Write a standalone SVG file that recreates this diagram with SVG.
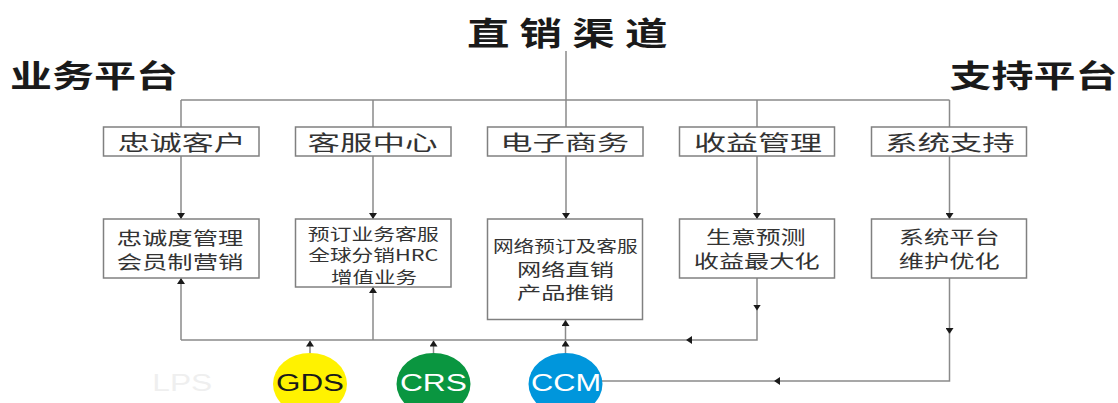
<svg xmlns="http://www.w3.org/2000/svg" width="1118" height="403" viewBox="0 0 1118 403">
<style>
.box{fill:#fff;stroke:#808080;stroke-width:1.5}
.ln{fill:none;stroke:#8a8a8a;stroke-width:1.5}
.cj{font-family:"Noto Sans CJK SC","Noto Sans",sans-serif;fill:#333;text-anchor:middle}
.ttl{font-family:"Noto Sans CJK SC","Noto Sans",sans-serif;fill:#1a1a1a;font-weight:bold}
.lat{font-family:"Liberation Sans",Arial,sans-serif;font-size:23px;text-anchor:middle}
</style>
<defs>
<marker id="ah" viewBox="0 0 6 8" refX="6" refY="4" markerWidth="6" markerHeight="8" orient="auto" markerUnits="userSpaceOnUse">
<path d="M0,0 L6,4 L0,8 z" fill="#1a1a1a"/>
</marker>
</defs>
<rect width="1118" height="403" fill="#fff"/>

<g id="titles">
<text class="ttl" font-size="32" letter-spacing="7.6" transform="scale(1.33 1)" x="351.1" y="44.7">直销渠道</text>
<text class="ttl" font-size="30.5" x="94" y="87" text-anchor="middle" textLength="168" lengthAdjust="spacingAndGlyphs">业务平台</text>
<text class="ttl" font-size="30.5" x="1033.5" y="87" text-anchor="middle" textLength="168" lengthAdjust="spacingAndGlyphs">支持平台</text>
</g>

<g id="connectors">
<path class="ln" d="M566,51 V127"/>
<path class="ln" d="M181,100 H949.5 M181,100 V127 M373,100 V127 M757,100 V127 M949.5,100 V127"/>
<path class="ln" d="M181,156 V219" marker-end="url(#ah)"/>
<path class="ln" d="M373,156 V219" marker-end="url(#ah)"/>
<path class="ln" d="M566,156 V219" marker-end="url(#ah)"/>
<path class="ln" d="M757,156 V219" marker-end="url(#ah)"/>
<path class="ln" d="M949.5,156 V219" marker-end="url(#ah)"/>
<path class="ln" d="M181,340 V278" marker-end="url(#ah)"/>
<path class="ln" d="M373,340 V287" marker-end="url(#ah)"/>
<path class="ln" d="M757,278 V310.5" marker-end="url(#ah)"/>
<path class="ln" d="M757,310 V340 H686" marker-end="url(#ah)"/>
<path class="ln" d="M686.5,340 H181"/>
<path class="ln" d="M310,354 V340.5" marker-end="url(#ah)"/>
<path class="ln" d="M433.5,354 V340.5" marker-end="url(#ah)"/>
<path class="ln" d="M565.5,354 V340.5" marker-end="url(#ah)"/>
<path class="ln" d="M565.5,340 V320" marker-end="url(#ah)"/>
<path class="ln" d="M949.5,278 V334" marker-end="url(#ah)"/>
<path class="ln" d="M949.5,333.5 V381 H774" marker-end="url(#ah)"/>
<path class="ln" d="M774.5,381 H602"/>
</g>

<g id="n-loyal">
<rect class="box" x="103.5" y="127" width="155.5" height="29"/>
<text class="cj" font-size="21" x="181.7" y="150" textLength="128" lengthAdjust="spacingAndGlyphs">忠诚客户</text>
</g>
<g id="n-service">
<rect class="box" x="295.5" y="127" width="155.5" height="29"/>
<text class="cj" font-size="21" x="372.5" y="150" textLength="130" lengthAdjust="spacingAndGlyphs">客服中心</text>
</g>
<g id="n-ecom">
<rect class="box" x="487.5" y="127" width="155.5" height="29"/>
<text class="cj" font-size="21" x="564.8" y="150" textLength="129" lengthAdjust="spacingAndGlyphs">电子商务</text>
</g>
<g id="n-revenue">
<rect class="box" x="679.5" y="127" width="155" height="29"/>
<text class="cj" font-size="21" x="758" y="150" textLength="128" lengthAdjust="spacingAndGlyphs">收益管理</text>
</g>
<g id="n-system">
<rect class="box" x="871.5" y="127" width="155" height="29"/>
<text class="cj" font-size="21" x="949.8" y="150" textLength="129.5" lengthAdjust="spacingAndGlyphs">系统支持</text>
</g>

<g id="n-loyal-detail">
<rect class="box" x="103.5" y="219" width="155.5" height="59"/>
<text class="cj" font-size="18.5" x="180" y="244.5" textLength="126.5" lengthAdjust="spacingAndGlyphs">忠诚度管理</text>
<text class="cj" font-size="18.5" x="180" y="268.5" textLength="126.5" lengthAdjust="spacingAndGlyphs">会员制营销</text>
</g>
<g id="n-service-detail">
<rect class="box" x="295.5" y="219" width="155.5" height="68"/>
<text class="cj" font-size="16" x="373.3" y="239.6" textLength="131" lengthAdjust="spacingAndGlyphs">预订业务客服</text>
<text class="cj" font-size="16" x="373.3" y="261.2" textLength="130" lengthAdjust="spacingAndGlyphs">全球分销HRC</text>
<text class="cj" font-size="16" x="374" y="282.8" textLength="86" lengthAdjust="spacingAndGlyphs">增值业务</text>
</g>
<g id="n-ecom-detail">
<rect class="box" x="487.5" y="219" width="155" height="100.5"/>
<text class="cj" font-size="15.5" x="565.3" y="251.6" textLength="144.7" lengthAdjust="spacingAndGlyphs">网络预订及客服</text>
<text class="cj" font-size="17.5" x="565.5" y="275.6" textLength="96.8" lengthAdjust="spacingAndGlyphs">网络直销</text>
<text class="cj" font-size="17.5" x="565.5" y="299.4" textLength="96.8" lengthAdjust="spacingAndGlyphs">产品推销</text>
</g>
<g id="n-revenue-detail">
<rect class="box" x="679.5" y="219" width="155" height="59"/>
<text class="cj" font-size="18.5" x="755.8" y="244.3" textLength="99.5" lengthAdjust="spacingAndGlyphs">生意预测</text>
<text class="cj" font-size="18.5" x="756.7" y="268.3" textLength="125.8" lengthAdjust="spacingAndGlyphs">收益最大化</text>
</g>
<g id="n-system-detail">
<rect class="box" x="871.5" y="219" width="155" height="59"/>
<text class="cj" font-size="18.5" x="949.2" y="244.3" textLength="100.8" lengthAdjust="spacingAndGlyphs">系统平台</text>
<text class="cj" font-size="18.5" x="949.2" y="268.3" textLength="100.8" lengthAdjust="spacingAndGlyphs">维护优化</text>
</g>

<g id="n-lps">
<text class="lat" x="182.3" y="391" fill="#efefef" textLength="60" lengthAdjust="spacingAndGlyphs">LPS</text>
</g>
<g id="n-gds">
<ellipse cx="310" cy="384" rx="37" ry="31" fill="#fff200"/>
<text class="lat" x="310" y="391" fill="#1a1a1a" textLength="68" lengthAdjust="spacingAndGlyphs">GDS</text>
</g>
<g id="n-crs">
<ellipse cx="433.5" cy="384" rx="37" ry="31" fill="#0a9640"/>
<text class="lat" x="433.4" y="391" fill="#fff" textLength="67" lengthAdjust="spacingAndGlyphs">CRS</text>
</g>
<g id="n-ccm">
<ellipse cx="565.5" cy="384" rx="37" ry="31" fill="#0096dc"/>
<text class="lat" x="566" y="391" fill="#fff" textLength="70" lengthAdjust="spacingAndGlyphs">CCM</text>
</g>
</svg>
